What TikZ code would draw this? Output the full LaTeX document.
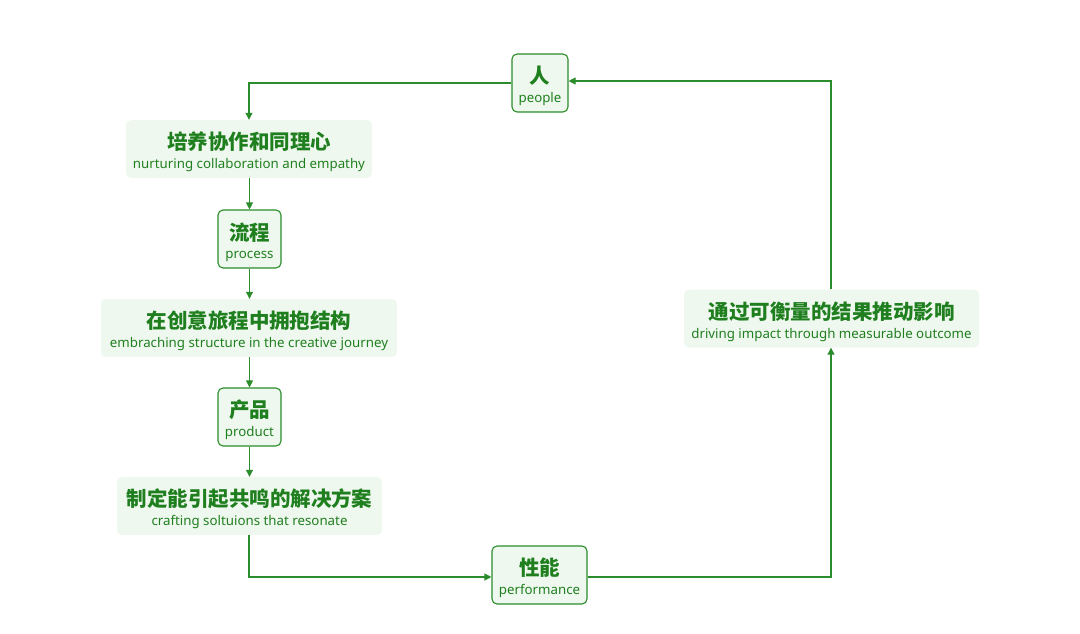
\documentclass[tikz,border=0pt]{standalone}
\usepackage{fontspec}
\setmainfont{Noto Sans}
\newfontfamily\cjk{Noto Sans CJK SC}
\usetikzlibrary{arrows.meta}
\definecolor{lg}{HTML}{2A8C2A}
\definecolor{tg}{HTML}{1F7F1F}
\definecolor{fg}{HTML}{EFF8EF}
\tikzset{
  base/.style={rounded corners=5pt, fill=fg, text=tg, align=center, inner sep=0pt, minimum height=58pt},
  framed/.style={base, draw=lg, line width=1.1pt},
  plain/.style={base},
  conn/.style={draw=lg, line width=1.1pt},
  arr/.style={conn, -{Triangle[length=7pt,width=7pt]}}
}
\newcommand{\lbl}[2]{{\cjk\bfseries\fontsize{20.5}{22}\selectfont\rule{0pt}{23.5pt}#1}\\[6pt]{\fontsize{13.3}{15}\selectfont #2}}
\begin{document}
\begin{tikzpicture}[x=1pt,y=-1pt]
\useasboundingbox (0,0) rectangle (1080,634);
\node[framed, minimum width=56pt] (people) at (540,83) {\lbl{人}{people}};
\node[plain, minimum width=246pt] (b1) at (249,149) {\lbl{培养协作和同理心}{nurturing collaboration and empathy}};
\node[framed, minimum width=63pt] (proc) at (249.5,239) {\lbl{流程}{process}};
\node[plain, minimum width=296pt] (b2) at (249,328) {\lbl{在创意旅程中拥抱结构}{embraching structure in the creative journey}};
\node[framed, minimum width=63pt] (prod) at (249.5,417) {\lbl{产品}{product}};
\node[plain, minimum width=265pt] (b3) at (249.5,506) {\lbl{制定能引起共鸣的解决方案}{crafting soltuions that resonate}};
\node[framed, minimum width=95pt] (perf) at (539.5,575) {\lbl{性能}{performance}};
\node[plain, minimum width=295pt] (b4) at (831.5,318.5) {\lbl{通过可衡量的结果推动影响}{driving impact through measurable outcome}};
\coordinate (c1) at (249,83);
\coordinate (c2) at (249,577);
\coordinate (c3) at (831,577);
\coordinate (c4) at (831,81);
\draw[arr] (people.west) -- (c1) -- (b1.north -| c1);
\draw[arr] (b1.south -| proc) -- (proc.north);
\draw[arr] (proc.south) -- (b2.north -| proc);
\draw[arr] (b2.south -| prod) -- (prod.north);
\draw[arr] (prod.south) -- (b3.north -| prod);
\draw[arr] (b3.south -| c2) -- (c2) -- (perf.west |- c2);
\draw[arr] (perf.east |- c3) -- (c3) -- (b4.south -| c3);
\draw[arr] (b4.north -| c4) -- (c4) -- (people.east |- c4);
\end{tikzpicture}
\end{document}
